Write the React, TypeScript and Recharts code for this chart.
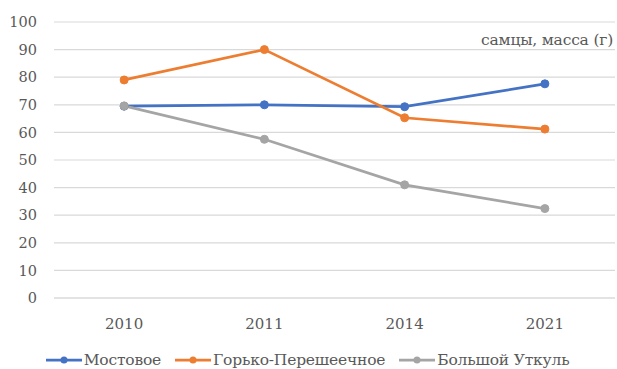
import { LineChart, Line, XAxis, YAxis, CartesianGrid, Legend } from 'recharts'

// годы наблюдений
const years = ['2010', '2011', '2014', '2021']

// масса самцов, г
const mostovoe = [69.5, 70, 69.3, 77.6]
const gorkoPeresheechnoe = [79, 90, 65.3, 61.2]
const bolshoyUtkul = [69.6, 57.5, 41, 32.4]

const yTicks = [0, 10, 20, 30, 40, 50, 60, 70, 80, 90, 100]

const SERIES = [
  { key: 'mostovoe', name: 'Мостовое', color: '#4472c4', values: mostovoe },
  { key: 'gorko', name: 'Горько-Перешеечное', color: '#ed7d31', values: gorkoPeresheechnoe },
  { key: 'utkul', name: 'Большой Уткуль', color: '#a5a5a5', values: bolshoyUtkul },
]

const FONT = '"DejaVu Serif", serif'
const TEXT = '#595959'
const GRID = '#d9d9d9'

const chartData = years.map((year, i) => {
  const row: Record<string, string | number> = { year }
  SERIES.forEach((s) => {
    row[s.key] = s.values[i]
  })
  return row
})

const seriesIndex = (name: string) => SERIES.findIndex((s) => s.name === name)

// легенда в порядке рядов: линия с маркером и подпись
function LegendRow({ payload }: any) {
  const items = [...(payload || [])].sort((a: any, b: any) => seriesIndex(a.value) - seriesIndex(b.value))
  return (
    <div
      style={{
        display: 'flex',
        justifyContent: 'center',
        gap: 14,
        paddingTop: 17,
        lineHeight: '18px',
        fontFamily: FONT,
        fontSize: 15.5,
        color: TEXT,
        letterSpacing: -0.2,
      }}
    >
      {items.map((entry: any) => (
        <span key={entry.value} style={{ display: 'flex', alignItems: 'center' }}>
          <svg width={36} height={10} style={{ marginRight: 2 }}>
            <line x1={0} y1={5} x2={36} y2={5} stroke={entry.color} strokeWidth={2.75} />
            <circle cx={18} cy={5} r={3.5} fill={entry.color} />
          </svg>
          {entry.value}
        </span>
      ))}
    </div>
  )
}

export default function App() {
  return (
    <div style={{ position: 'absolute', left: 0, top: 0, width: 617, height: 369, background: '#fff' }}>
      <LineChart
        width={617}
        height={369}
        data={chartData}
        margin={{ top: 22, right: 2, left: 0, bottom: 0 }}
      >
        <CartesianGrid vertical={false} stroke={GRID} strokeWidth={1.2} />
        <XAxis
          dataKey="year"
          scale="band"
          axisLine={{ stroke: GRID, strokeWidth: 1.2 }}
          tickLine={false}
          tickMargin={14}
          height={36}
          tick={{ fill: TEXT, fontFamily: FONT, fontSize: 15 }}
        />
        <YAxis
          domain={[0, 100]}
          ticks={yTicks}
          width={54}
          axisLine={false}
          tickLine={false}
          tickMargin={11}
          tick={{ fill: TEXT, fontFamily: FONT, fontSize: 14.5 }}
        />
        <Legend verticalAlign="bottom" content={<LegendRow />} />
        {SERIES.map((s) => (
          <Line
            key={s.key}
            dataKey={s.key}
            name={s.name}
            stroke={s.color}
            strokeWidth={2.75}
            dot={{ r: 4, fill: s.color, stroke: s.color, strokeWidth: 1 }}
            activeDot={false}
            isAnimationActive={false}
          />
        ))}
      </LineChart>
      <div
        style={{
          position: 'absolute',
          right: 4,
          top: 31,
          fontFamily: FONT,
          fontSize: 15.5,
          lineHeight: '18px',
          color: TEXT,
          letterSpacing: -0.2,
        }}
      >
        самцы, масса (г)
      </div>
    </div>
  )
}
